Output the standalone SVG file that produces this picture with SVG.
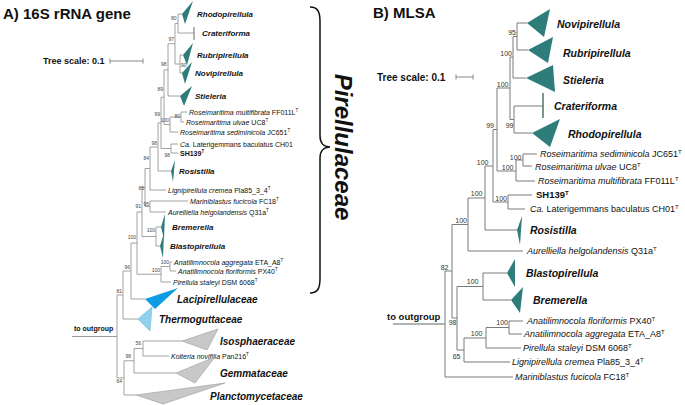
<svg xmlns="http://www.w3.org/2000/svg" width="685" height="405" viewBox="0 0 685 405">
<style>
text{font-family:"Liberation Sans",Arial,sans-serif;fill:#111}
.title{font-size:15px;font-weight:bold}
.ts1{font-size:9px;font-weight:bold}
.ts2{font-size:10px;font-weight:bold}
.og1{font-size:7px;font-weight:bold}
.og2{font-size:9.5px;font-weight:bold}
.gL{font-size:8px;font-weight:bold;font-style:italic}
.fL{font-size:10px;font-weight:bold;font-style:italic}
.sL{font-size:7px;font-style:italic}
.gR{font-size:10.5px;font-weight:bold;font-style:italic}
.sR{font-size:9px;font-style:italic}
.n{font-style:normal}
.bL{font-size:5px;fill:#444;text-anchor:end}
.bR{font-size:7px;fill:#333;text-anchor:end}
.brL{stroke:#8c8c8c;stroke-width:0.8;fill:none}
.brR{stroke:#7a7a7a;stroke-width:1;fill:none}
.teal{fill:#2e7d7a}
.grey{fill:#c8c8c8;stroke:#9a9a9a;stroke-width:0.6}
.scale{stroke:#888;stroke-width:1;fill:none}
.fam{font-size:24px;font-weight:bold;font-style:italic}
</style>

<text class="title" x="3" y="19">A) 16S rRNA gene</text>
<text class="title" x="373" y="18">B) MLSA</text>

<g id="scaleA">
<text class="ts1" x="43" y="64">Tree scale: 0.1</text>
<path class="scale" d="M110,61 H143 M110,58.5 V63.5 M143,58.5 V63.5"/>
</g>
<g id="scaleB">
<text class="ts2" x="377" y="80.5">Tree scale: 0.1</text>
<path class="scale" d="M456,77 H473 M456,74.5 V79.5 M473,74.5 V79.5"/>
</g>

<!-- ===== Tree A connectors ===== -->
<g id="connectorsA" class="brL">
<path d="M178,14 V33 M178,14 H182 M178,33 H194"/>
<path d="M180,55 V73 M180,55 H183 M180,73 H182"/>
<path d="M175,23.5 V64 M175,23.5 H178 M175,64 H180"/>
<path d="M168,43.75 V96 M168,43.75 H175 M168,96 H180"/>
<path d="M181,112 V122 M181,112 H187 M181,122 H184"/>
<path d="M170,117 V132 M170,117 H181 M170,132 H178"/>
<path d="M164,69.9 V124.5 M164,69.9 H168 M164,124.5 H170"/>
<path d="M171,144 V153 M171,144 H178 M171,153 H178"/>
<path d="M161,97.2 V148.5 M161,97.2 H164 M161,148.5 H171"/>
<path d="M158,122.9 V171 M158,122.9 H161 M158,171 H171"/>
<path d="M150,147 V190 M150,147 H158 M150,190 H166"/>
<path d="M150,201 V212 M150,201 H188 M150,212 H166"/>
<path d="M145,168.5 V206.5 M145,168.5 H150 M145,206.5 H150"/>
<path d="M156,227 V246 M156,227 H161 M156,246 H160"/>
<path d="M142,187.5 V236.5 M142,187.5 H145 M142,236.5 H156"/>
<path d="M170,262 V271 M170,262 H172 M170,271 H176"/>
<path d="M161,266.5 V282 M161,266.5 H170 M161,282 H171"/>
<path d="M137,212 V274.25 M137,212 H142 M137,274.25 H161"/>
<path d="M131,243 V299 M131,243 H137 M131,299 H145"/>
<path d="M123,271 V319 M123,271 H131 M123,319 H138"/>
<path d="M143,341 V356 M143,341 H182 M143,356 H169"/>
<path d="M134,348.5 V373 M134,348.5 H143 M134,373 H176"/>
<path d="M124,360.75 V395 M124,360.75 H134 M124,395 H136"/>
<path d="M117,295 V377.9 M117,295 H123 M117,377.9 H124"/>
<path d="M72,336.5 H117" stroke="#999" stroke-width="1.2"/>
</g>

<g id="bootstrapA">
<text class="bL" x="176.5" y="20">80</text>
<text class="bL" x="186.5" y="67">90</text>
<text class="bL" x="174" y="41">97</text>
<text class="bL" x="166.5" y="66">98</text>
<text class="bL" x="163" y="91">89</text>
<text class="bL" x="180" y="117.5">80</text>
<text class="bL" x="169" y="122">100</text>
<text class="bL" x="160" y="115.5">99</text>
<text class="bL" x="170" y="157">98</text>
<text class="bL" x="157" y="145">98</text>
<text class="bL" x="149" y="160">84</text>
<text class="bL" x="144" y="190">85</text>
<text class="bL" x="141" y="208">91</text>
<text class="bL" x="149" y="205.5">95</text>
<text class="bL" x="155" y="232">100</text>
<text class="bL" x="136" y="239">100</text>
<text class="bL" x="169" y="264">100</text>
<text class="bL" x="160" y="272">100</text>
<text class="bL" x="130" y="269">96</text>
<text class="bL" x="122" y="293">81</text>
<text class="bL" x="141" y="345">56</text>
<text class="bL" x="131" y="358">98</text>
<text class="bL" x="122" y="383">64</text>
</g>

<text class="og1" x="74" y="331">to outgroup</text>

<g id="A-Rhodopirellula"><polygon class="teal" points="182,14 193,1 185,24"/><text class="gL" x="197" y="17">Rhodopirellula</text></g>
<g id="A-Crateriforma"><path d="M194,27 V40" stroke="#666" stroke-width="1"/><text class="gL" x="202" y="36">Crateriforma</text></g>
<g id="A-Rubripirellula"><polygon class="teal" points="183,55 193,43 187,65"/><text class="gL" x="197" y="58">Rubripirellula</text></g>
<g id="A-Novipirellula"><polygon class="teal" points="182,73 192,62 185,84"/><text class="gL" x="195" y="76">Novipirellula</text></g>
<g id="A-Stieleria"><polygon class="teal" points="180,96 192,86 184,106"/><text class="gL" x="195" y="99">Stieleria</text></g>
<g id="A-Rmultifibrata"><text class="sL" x="189" y="114.5">Roseimaritima multifibrata <tspan class="n">FF011L</tspan><tspan class="n" font-size="4.5" dy="-2.5">T</tspan></text></g>
<g id="A-Rulvae"><text class="sL" x="186" y="124.5">Roseimaritima ulvae <tspan class="n">UC8</tspan><tspan class="n" font-size="4.5" dy="-2.5">T</tspan></text></g>
<g id="A-Rsediminicola"><text class="sL" x="180" y="134.5">Roseimaritima sediminicola <tspan class="n">JC651</tspan><tspan class="n" font-size="4.5" dy="-2.5">T</tspan></text></g>
<g id="A-Laterigemmans"><text class="sL" x="180" y="146.5"><tspan>Ca.</tspan><tspan class="n"> Laterigemmans baculatus CH01</tspan></text></g>
<g id="A-SH139"><text x="180" y="155.5" font-size="7" font-weight="bold">SH139<tspan font-size="4.5" dy="-2.5">T</tspan></text></g>
<g id="A-Rosistilla"><polygon class="teal" points="171,171 175,160 173,182"/><text class="gL" x="179" y="174">Rosistilla</text></g>
<g id="A-Lignipirellula"><text class="sL" x="168" y="192.5">Lignipirellula cremea <tspan class="n">Pla85_3_4</tspan><tspan class="n" font-size="4.5" dy="-2.5">T</tspan></text></g>
<g id="A-Mariniblastus"><text class="sL" x="190" y="203.5">Mariniblastus fucicola <tspan class="n">FC18</tspan><tspan class="n" font-size="4.5" dy="-2.5">T</tspan></text></g>
<g id="A-Aurelliella"><text class="sL" x="168" y="214.5">Aurelliella helgolandensis <tspan class="n">Q31a</tspan><tspan class="n" font-size="4.5" dy="-2.5">T</tspan></text></g>
<g id="A-Bremerella"><polygon class="teal" points="161,227 165,214 164,239"/><text class="gL" x="172" y="230">Bremerella</text></g>
<g id="A-Blastopirellula"><polygon class="teal" points="160,246 164,233 163,258"/><text class="gL" x="170" y="249">Blastopirellula</text></g>
<g id="A-Aaggregata"><text class="sL" x="174" y="264.5">Anatilimnocola aggregata <tspan class="n">ETA_A8</tspan><tspan class="n" font-size="4.5" dy="-2.5">T</tspan></text></g>
<g id="A-Afloriformis"><text class="sL" x="178" y="273.5">Anatilimnocola floriformis <tspan class="n">PX40</tspan><tspan class="n" font-size="4.5" dy="-2.5">T</tspan></text></g>
<g id="A-Pirellula"><text class="sL" x="173" y="284.5">Pirellula staleyi <tspan class="n">DSM 6068</tspan><tspan class="n" font-size="4.5" dy="-2.5">T</tspan></text></g>
<g id="A-Lacipirellulaceae"><polygon points="145,299 178,288 155,309" fill="#0f9ce2"/><text class="fL" x="177" y="302.5">Lacipirellulaceae</text></g>
<g id="A-Thermoguttaceae"><polygon points="138,319 152,307 150,331" fill="#90d2ec" stroke="#5aaed0" stroke-width="0.5"/><text class="fL" x="159" y="322.5">Thermoguttaceae</text></g>
<g id="A-Isosphaeraceae"><polygon class="grey" points="182,341 218,329 207,350"/><text class="fL" x="220" y="344.5">Isosphaeraceae</text></g>
<g id="A-Kolteria"><text class="sL" x="171" y="358.5">Kolteria novifilia <tspan class="n">Pan216</tspan><tspan class="n" font-size="4.5" dy="-2.5">T</tspan></text></g>
<g id="A-Gemmataceae"><polygon class="grey" points="176,373 215,357 195,383"/><text class="fL" x="220" y="376.5">Gemmataceae</text></g>
<g id="A-Planctomycetaceae"><polygon class="grey" points="136,395 225,383 163,404"/><text class="fL" x="210" y="399.5">Planctomycetaceae</text></g>

<g id="Pirellulaceae-brace">
<path d="M310,7 C318,7 320,12 320,22 L320,136 C320,143 324,147 330,147 C324,147 320,151 320,158 L320,278 C320,288 318,293 310,293" fill="none" stroke="#111" stroke-width="1.5"/>
<text class="fam" transform="translate(335,147) rotate(90)" text-anchor="middle">Pirellulaceae</text>
</g>

<!-- ===== Tree B connectors ===== -->
<g id="connectorsB" class="brR">
<path d="M517,23 V50 M517,23 H527 M517,50 H528"/>
<path d="M513,36.5 V78 M513,36.5 H517 M513,78 H526"/>
<path d="M510,57 V119.5 M510,57 H513 M510,119.5 H514"/>
<path d="M514,106 V133 M514,106 H543 M514,133 H532"/>
<path d="M497,88 V171 M497,88 H510 M497,171 H516"/>
<path d="M516,160 V181 M516,160 H523 M516,181 H535"/>
<path d="M523,154 V166 M523,154 H537 M523,166 H532"/>
<path d="M493,129.5 V202 M493,129.5 H497 M493,202 H508"/>
<path d="M508,195 V209 M508,195 H532 M508,209 H525"/>
<path d="M485,166 V230 M485,166 H493 M485,230 H517"/>
<path d="M468,198 V251 M468,198 H485 M468,251 H523"/>
<path d="M452,224.5 V318 M452,224.5 H468 M452,318 H457"/>
<path d="M457,286.5 V350 M457,286.5 H483 M457,350 H464"/>
<path d="M483,273 V300 M483,273 H507 M483,300 H511"/>
<path d="M509,321 V334 M509,321 H523 M509,334 H522"/>
<path d="M486,327.5 V348 M486,327.5 H509 M486,348 H521"/>
<path d="M464,338 V362 M464,338 H486 M464,362 H510"/>
<path d="M445,271 V377 M445,271 H452 M445,377 H513"/>
<path d="M393,324 H445" stroke="#999" stroke-width="1.5"/>
</g>

<g id="bootstrapB">
<text class="bR" x="516" y="34.5">95</text>
<text class="bR" x="512" y="55.5">100</text>
<text class="bR" x="508.5" y="86.5">100</text>
<text class="bR" x="513.5" y="127.5">99</text>
<text class="bR" x="494" y="127.5">99</text>
<text class="bR" x="521.5" y="159.5">100</text>
<text class="bR" x="513.5" y="169.5">100</text>
<text class="bR" x="488.5" y="164.5">100</text>
<text class="bR" x="507" y="200.5">100</text>
<text class="bR" x="482.5" y="195.5">100</text>
<text class="bR" x="467" y="222.5">100</text>
<text class="bR" x="448.5" y="269.5">82</text>
<text class="bR" x="478.5" y="283.5">100</text>
<text class="bR" x="456.5" y="324.5">98</text>
<text class="bR" x="508" y="324.5">100</text>
<text class="bR" x="482.5" y="335.5">100</text>
<text class="bR" x="460.5" y="358.5">65</text>
</g>

<text class="og2" x="387" y="319.5">to outgroup</text>

<g id="B-Novipirellula"><polygon class="teal" points="527,23 550,9 544,37"/><text class="gR" x="557" y="27.8">Novipirellula</text></g>
<g id="B-Rubripirellula"><polygon class="teal" points="528,50 553,37 548,63"/><text class="gR" x="563" y="56.8">Rubripirellula</text></g>
<g id="B-Stieleria"><polygon class="teal" points="526,78 553,65 555,92"/><text class="gR" x="563" y="83.8">Stieleria</text></g>
<g id="B-Crateriforma"><path d="M543,93 V118" stroke="#2e5f5d" stroke-width="1.3"/><text class="gR" x="554" y="109.8">Crateriforma</text></g>
<g id="B-Rhodopirellula"><polygon class="teal" points="532,133 560,119 550,147"/><text class="gR" x="568" y="137.8">Rhodopirellula</text></g>
<g id="B-Rsediminicola"><text class="sR" x="540" y="157.2">Roseimaritima sediminicola <tspan class="n">JC651</tspan><tspan class="n" font-size="6" dy="-3.5">T</tspan></text></g>
<g id="B-Rulvae"><text class="sR" x="535" y="170.2">Roseimaritima ulvae <tspan class="n">UC8</tspan><tspan class="n" font-size="6" dy="-3.5">T</tspan></text></g>
<g id="B-Rmultifibrata"><text class="sR" x="538" y="184.2">Roseimaritima multifibrata <tspan class="n">FF011L</tspan><tspan class="n" font-size="6" dy="-3.5">T</tspan></text></g>
<g id="B-SH139"><text x="536" y="198.3" font-size="9.5" font-weight="bold">SH139<tspan font-size="6" dy="-3.5">T</tspan></text></g>
<g id="B-Laterigemmans"><text class="sR" x="530" y="212.2">Ca.<tspan class="n"> Laterigemmans baculatus CH01</tspan><tspan class="n" font-size="6" dy="-3.5">T</tspan></text></g>
<g id="B-Rosistilla"><polygon class="teal" points="517,230 522,216 520,245"/><text class="gR" x="530" y="233.8">Rosistilla</text></g>
<g id="B-Aurelliella"><text class="sR" x="527" y="254.2">Aurelliella helgolandensis <tspan class="n">Q31a</tspan><tspan class="n" font-size="6" dy="-3.5">T</tspan></text></g>
<g id="B-Blastopirellula"><polygon class="teal" points="507,273 515,259 515,287"/><text class="gR" x="526" y="276.8">Blastopirellula</text></g>
<g id="B-Bremerella"><polygon class="teal" points="511,300 523,287 520,313"/><text class="gR" x="533" y="303.8">Bremerella</text></g>
<g id="B-Afloriformis"><text class="sR" x="527" y="324.2">Anatilimnocola floriformis <tspan class="n">PX40</tspan><tspan class="n" font-size="6" dy="-3.5">T</tspan></text></g>
<g id="B-Aaggregata"><text class="sR" x="524" y="337.2">Anatilimnocola aggregata <tspan class="n">ETA_A8</tspan><tspan class="n" font-size="6" dy="-3.5">T</tspan></text></g>
<g id="B-Pirellula"><text class="sR" x="523" y="351.2">Pirellula staleyi <tspan class="n">DSM 6068</tspan><tspan class="n" font-size="6" dy="-3.5">T</tspan></text></g>
<g id="B-Lignipirellula"><text class="sR" x="512" y="365.2">Lignipirellula cremea <tspan class="n">Pla85_3_4</tspan><tspan class="n" font-size="6" dy="-3.5">T</tspan></text></g>
<g id="B-Mariniblastus"><text class="sR" x="515" y="380.2">Mariniblastus fucicola <tspan class="n">FC18</tspan><tspan class="n" font-size="6" dy="-3.5">T</tspan></text></g>
</svg>
